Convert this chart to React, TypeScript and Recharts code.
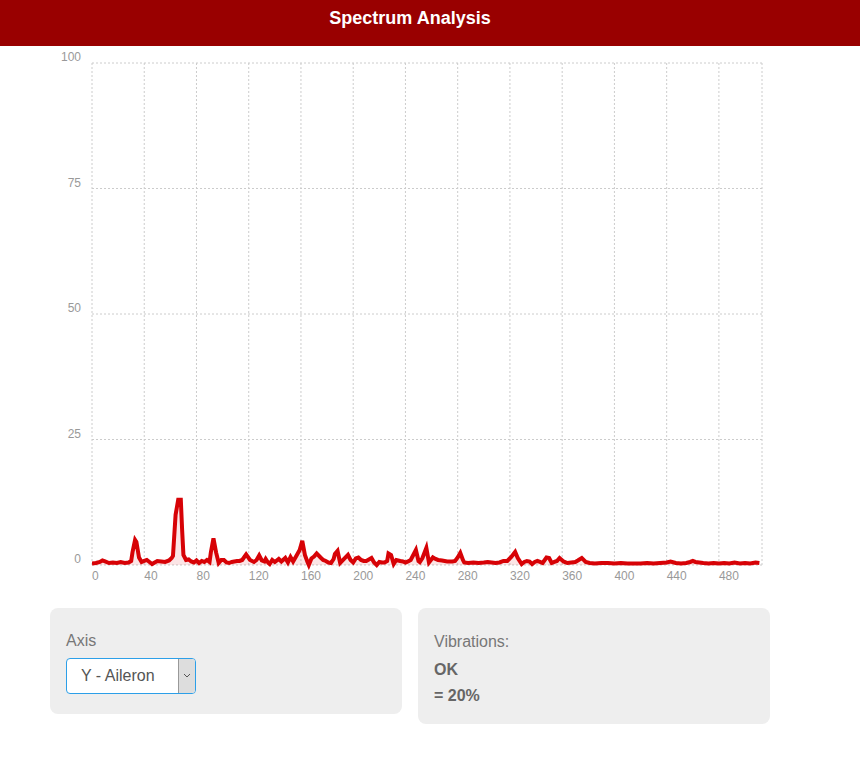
import { Area, AreaChart, CartesianGrid, XAxis, YAxis } from 'recharts'

// FFT bin index and amplitude
const bins = [
  0, 3, 6, 8, 10, 13, 16, 19, 22, 25, 28, 30, 31, 33, 34, 36, 38, 40, 42, 44,
  46, 48, 50, 53, 56, 59, 61, 62, 64, 65, 66, 68, 69, 70, 72, 74, 76, 78, 80, 82,
  84, 86, 88, 90, 91, 93, 95, 97, 99, 101, 103, 105, 107, 109, 111, 113, 115, 118, 121, 124,
  126, 128, 130, 132, 133, 135, 136, 138, 140, 143, 145, 148, 150, 152, 154, 156, 159, 161, 163, 165,
  166, 168, 170, 172, 175, 177, 179, 181, 183, 185, 186, 188, 190, 193, 196, 198, 200, 202, 204, 206,
  208, 210, 212, 214, 216, 218, 220, 222, 224, 226, 227, 229, 231, 233, 236, 238, 240, 242, 244, 246,
  248, 250, 251, 253, 256, 258, 261, 263, 265, 268, 272, 276, 278, 280, 282, 284, 285, 288, 292, 296,
  300, 303, 306, 309, 312, 315, 318, 321, 324, 326, 329, 331, 333, 335, 337, 339, 341, 343, 345, 348,
  350, 352, 354, 356, 358, 361, 364, 367, 370, 372, 375, 378, 381, 385, 390, 395, 400, 405, 410, 415,
  420, 425, 430, 435, 440, 443, 447, 451, 455, 458, 460, 462, 465, 468, 472, 476, 480, 484, 488, 492,
  496, 500, 504, 508, 511,
]

const amplitudes = [
  0.3, 0.4, 0.6, 0.9, 0.7, 0.4, 0.5, 0.4, 0.6, 0.4, 0.5, 0.8, 2.5, 5.0, 4.6, 1.5, 0.6, 0.8, 1.0, 0.6,
  0.2, 0.5, 0.8, 0.7, 0.6, 0.9, 1.4, 1.8, 10.0, 11.5, 13.0, 13.0, 7.0, 2.0, 1.0, 1.1, 0.7, 0.5, 0.9, 0.4,
  0.8, 0.6, 1.0, 0.6, 2.5, 5.3, 2.5, 0.4, 1.0, 1.0, 0.5, 0.4, 0.6, 0.7, 0.8, 0.8, 1.0, 2.1, 1.0, 0.6,
  1.0, 1.9, 0.9, 0.7, 1.2, 0.4, 0.2, 1.0, 0.6, 1.2, 0.7, 1.4, 0.5, 1.6, 0.7, 1.6, 3.0, 4.8, 2.0, 0.6,
  0.0, 1.3, 1.7, 2.3, 1.5, 1.0, 0.8, 0.5, 0.4, 1.2, 2.2, 2.8, 0.4, 1.2, 2.0, 1.0, 0.5, 1.3, 1.5, 1.0,
  0.8, 0.8, 1.1, 1.4, 0.5, 0.0, 0.6, 0.5, 0.5, 0.8, 2.3, 2.0, 0.2, 1.0, 0.8, 0.7, 0.5, 0.7, 1.0, 2.0,
  3.0, 0.8, 0.6, 1.4, 3.4, 0.5, 1.5, 1.2, 1.0, 0.9, 0.7, 0.7, 0.8, 1.5, 2.4, 1.0, 0.5, 0.4, 0.5, 0.4,
  0.5, 0.6, 0.5, 0.4, 0.5, 0.8, 0.8, 1.6, 2.6, 1.4, 0.2, 0.6, 0.8, 0.7, 0.2, 0.6, 0.8, 0.6, 0.4, 1.5,
  1.4, 0.4, 0.6, 0.8, 1.4, 0.7, 0.4, 0.5, 0.6, 0.9, 1.4, 0.6, 0.4, 0.3, 0.4, 0.4, 0.3, 0.4, 0.3, 0.3,
  0.3, 0.4, 0.3, 0.4, 0.5, 0.7, 0.4, 0.3, 0.4, 0.6, 0.8, 0.6, 0.5, 0.4, 0.3, 0.4, 0.3, 0.4, 0.3, 0.5,
  0.3, 0.4, 0.3, 0.5, 0.4,
]

const xTicks = [0, 40, 80, 120, 160, 200, 240, 280, 320, 360, 400, 440, 480]
const yTicks = [0, 25, 50, 75, 100]

const FONT = '"Liberation Sans", Arial, Helvetica, sans-serif'

const chartData = bins.map((bin, i) => ({ bin, amp: amplitudes[i] }))

// chartist style labels: y labels sit just above the grid line, x labels start at it
const YTick = (props: any) => {
  const { y, payload } = props
  return (
    <text x={81} y={y - 2} textAnchor='end' fill='#999' fontSize={12} fontFamily={FONT}>
      {payload.value}
    </text>
  )
}

const XTick = (props: any) => {
  const { x, payload } = props
  return (
    <text x={x} y={534} textAnchor='start' fill='#999' fontSize={12} fontFamily={FONT}>
      {payload.value}
    </text>
  )
}

const panel: React.CSSProperties = {
  position: 'absolute',
  background: '#eeeeee',
  borderRadius: 8,
  fontFamily: FONT,
}

export default function App() {
  return (
    <div
      style={{
        position: 'absolute',
        left: 0,
        top: 0,
        width: 860,
        height: 766,
        background: '#fff',
        fontFamily: FONT,
      }}
    >
      <div
        style={{
          position: 'absolute',
          left: 0,
          top: 0,
          width: 860,
          height: 46,
          background: '#990000',
        }}
      >
        <div
          style={{
            width: 820,
            textAlign: 'center',
            color: '#fff',
            fontWeight: 'bold',
            fontSize: 18,
            lineHeight: '36px',
          }}
        >
          Spectrum Analysis
        </div>
      </div>

      <div style={{ position: 'absolute', left: 0, top: 46 }}>
        <AreaChart
          width={800}
          height={560}
          data={chartData}
          margin={{ top: 17, right: 38, bottom: 11, left: 0 }}
        >
          <CartesianGrid stroke='#cccccc' strokeDasharray='2 2' />
          <XAxis
            type='number'
            dataKey='bin'
            domain={[0, 513]}
            ticks={xTicks}
            interval={0}
            axisLine={false}
            tickLine={false}
            height={30}
            tick={XTick}
            allowDataOverflow
          />
          <YAxis
            type='number'
            domain={[0, 100]}
            ticks={yTicks}
            interval={0}
            axisLine={false}
            tickLine={false}
            width={92}
            tick={YTick}
          />
          <Area
            type='linear'
            dataKey='amp'
            stroke='#d70206'
            strokeWidth={4}
            fill='#d70206'
            fillOpacity={0.1}
            dot={false}
            activeDot={false}
            isAnimationActive={false}
          />
        </AreaChart>
      </div>

      <div style={{ ...panel, left: 50, top: 608, width: 352, height: 106 }}>
        <div style={{ position: 'absolute', left: 16, top: 24, fontSize: 16, color: '#777' }}>Axis</div>
        <div
          style={{
            position: 'absolute',
            left: 16,
            top: 50,
            width: 128,
            height: 34,
            background: '#fff',
            border: '1px solid #2c9fe8',
            borderRadius: 4,
            overflow: 'hidden',
          }}
        >
          <div style={{ position: 'absolute', left: 14, top: 8, fontSize: 16, color: '#555' }}>
            Y - Aileron
          </div>
          <div
            style={{
              position: 'absolute',
              right: 0,
              top: 0,
              width: 16,
              height: 34,
              background: '#dddddd',
              borderLeft: '1px solid #999',
            }}
          >
            <svg width={16} height={34} style={{ display: 'block' }}>
              <polyline points='5,15 8,18 11,15' fill='none' stroke='#555' strokeWidth={1} />
            </svg>
          </div>
        </div>
      </div>

      <div style={{ ...panel, left: 418, top: 608, width: 352, height: 116 }}>
        <div style={{ position: 'absolute', left: 16, top: 25, fontSize: 16, color: '#777' }}>
          Vibrations:
        </div>
        <div
          style={{ position: 'absolute', left: 16, top: 53, fontSize: 16, fontWeight: 'bold', color: '#666' }}
        >
          OK
        </div>
        <div
          style={{ position: 'absolute', left: 16, top: 79, fontSize: 16, fontWeight: 'bold', color: '#666' }}
        >
          = 20%
        </div>
      </div>
    </div>
  )
}
